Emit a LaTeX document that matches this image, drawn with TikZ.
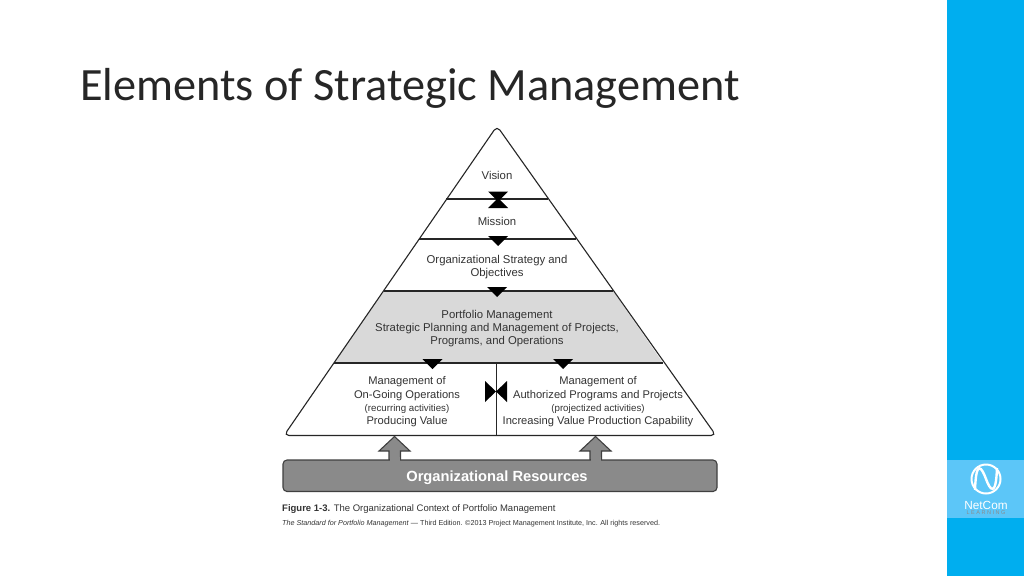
\documentclass[tikz,border=0pt]{standalone}
\usepackage{fontspec}
\setmainfont{Liberation Sans}
\newfontfamily\titlefont{Carlito}
\usetikzlibrary{positioning}
\definecolor{sidebar}{HTML}{00AEEF}
\definecolor{logobox}{HTML}{5CC6F8}
\definecolor{inktext}{HTML}{333333}
\definecolor{tiergray}{HTML}{D9D9D9}
\definecolor{resgray}{HTML}{8A8A8A}
\tikzset{
  node distance = 0pt and 0pt,
  tier/.style = {draw = black!85,
                 line width = 1.1pt},
  marker/.style = {fill = black},
  resource/.style = {draw = black!75,
                     fill = resgray,
                     line width = 1.1pt},
  tierlabel/.style = {align = center,
                      text = inktext,
                      inner sep = 0pt,
                      font = \fontsize{11.35}{13}\selectfont},
  manlabel/.style = {tierlabel,
                     font = \fontsize{11.15}{13.3}\selectfont}
}

\begin{document}
\begin{tikzpicture}[x = 1pt, y = -1pt]

\useasboundingbox (0,0) rectangle (1024,576);
\fill[white] (0,0) rectangle (1024,576);

% side bar and logo
\fill[sidebar] (947,0) rectangle (1024,576);
\fill[logobox] (947,460) rectangle (1024,518);
\node[circle, draw = white, line width = 2pt, minimum size = 29pt, inner sep = 0pt](logo-ring) at (986,479){};
\draw[white, line width = 2.4pt] (logo-ring.south west) .. controls (976,458) and (982,468) .. (986,479)
  .. controls (990,490) and (996,498) .. (logo-ring.north east);
\node[text = white, inner sep = 0pt, font = \fontsize{11.8}{11}\selectfont](logo-name) at (986,505){NetCom};
\node[text = black!45, inner sep = 0pt, font = \fontsize{5.5}{5}\selectfont](logo-sub)[below = 1pt of logo-name]{L E A R N I N G};

\node[anchor = base west, inner sep = 0pt, text = black!85, font = \titlefont\fontsize{46.3}{46}\selectfont](title) at (80,100){Elements of Strategic Management};

% pyramid
\fill[tiergray] (384,291) -- (613,291) -- (663,363) -- (334,363) -- cycle;
\draw[tier, rounded corners = 5pt] (497,126) -- (716,435.5) -- (284,435.5) -- cycle;
\draw[tier] (446,199) -- (548,199);
\draw[tier] (419,239) -- (576,239);
\draw[tier] (384,291) -- (613,291);
\draw[tier] (334,363) -- (663,363);
\draw[tier] (496.5,363) -- (496.5,435.5);

% markers between tiers
\foreach \x/\y in {498/191.5, 498/236, 497/287, 432.5/359, 563/359}
  \fill[marker] (\x-10,\y) -- (\x+10,\y) -- (\x,\y+10) -- cycle;
\fill[marker] (488,208) -- (508,208) -- (498,198) -- cycle;
\fill[marker] (485,381) -- (496,391.5) -- (485,402) -- cycle;
\fill[marker] (507,381) -- (496,391.5) -- (507,402) -- cycle;

\node[tierlabel](label-vision) at (497,175.5){Vision};
\node[tierlabel](label-mission) at (497,221.5){Mission};
\node[tierlabel](label-strategy) at (497,267){Organizational Strategy and\\Objectives};
\node[tierlabel](label-portfolio) at (497,329){Portfolio Management\\Strategic Planning and Management of Projects,\\Programs, and Operations};
\node[manlabel](label-operations) at (407,402){Management of\\On-Going Operations\\{\fontsize{9.7}{13.3}\selectfont (recurring activities)}\\Producing Value};
\node[manlabel](label-projects) at (598,402){Management of\\Authorized Programs and Projects\\{\fontsize{9.7}{13.3}\selectfont (projectized activities)}\\Increasing Value Production Capability};

% resources
\draw[resource] (394.5,436.5) -- (410,451) -- (400.5,451) -- (400.5,460) -- (389,460) -- (389,451) -- (379,451) -- cycle;
\draw[resource] (595.5,436.5) -- (611,451) -- (601.5,451) -- (601.5,460) -- (590,460) -- (590,451) -- (580,451) -- cycle;
\draw[resource, rounded corners = 4pt] (283,460) rectangle (717,491.5);
\fill[resgray] (390,457) rectangle (400,463);
\fill[resgray] (591,457) rectangle (601,463);
\node[text = white, inner sep = 0pt, font = \bfseries\fontsize{14.7}{15}\selectfont](label-resources) at (497,477.5){Organizational Resources};

% caption
\node[anchor = base west, inner sep = 0pt, text = inktext, font = \fontsize{9.5}{10}\selectfont](caption) at (282,511){\textbf{Figure 1-3.} The Organizational Context of Portfolio Management};
\node[anchor = base west, inner sep = 0pt, text = inktext, font = \fontsize{7.2}{8}\selectfont](source) at (282,525){\textit{The Standard for Portfolio Management} --- Third Edition. ©2013 Project Management Institute, Inc. All rights reserved.};

\end{tikzpicture}
\end{document}
